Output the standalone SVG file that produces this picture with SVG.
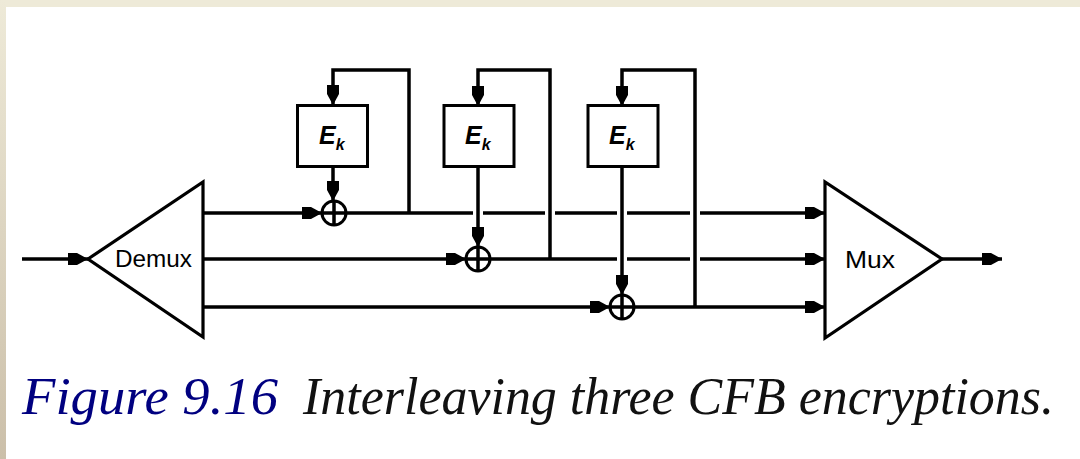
<svg xmlns="http://www.w3.org/2000/svg" width="1080" height="459" viewBox="0 0 1080 459">
<defs>
<linearGradient id="side" x1="0" y1="0" x2="0" y2="1">
<stop offset="0" stop-color="#EEEAD8"/>
<stop offset="1" stop-color="#CBBFA9"/>
</linearGradient>
<marker id="arr" markerUnits="userSpaceOnUse" markerWidth="24" markerHeight="16" viewBox="-22 -8 24 16" refX="0" refY="0" orient="auto">
<path d="M-20,-6 L-11,-6 L0,0 L-11,6 L-20,6 Z" fill="#000"/>
</marker>
</defs>
<style>
.ln{fill:none;stroke:#000;stroke-width:3.5;stroke-linecap:butt;stroke-linejoin:miter}
.ar{marker-end:url(#arr)}
.box{fill:#fff;stroke:#000;stroke-width:3}
.tri{fill:#fff;stroke:#000;stroke-width:3.2}
.xor{fill:#fff;stroke:#000;stroke-width:3}
.lbl{font-family:"Liberation Sans",Arial,sans-serif;font-size:24px;fill:#000}
.ek{font-family:"Liberation Sans",Arial,sans-serif;font-style:italic;font-weight:bold;fill:#000}
.cap{font-family:"Liberation Serif","Times New Roman",serif;font-style:italic;font-size:53px}
</style>
<rect x="0" y="0" width="1080" height="459" fill="#fff"/>
<rect x="0" y="0" width="1080" height="7" fill="#EEEAD8"/>
<rect x="0" y="0" width="6" height="459" fill="url(#side)"/>

<g id="connectors">
<path class="ln ar" d="M22,259 H88"/>
<path class="ln ar" d="M203,213 H322"/>
<path class="ln" d="M346,213 H473 M483,213 H545 M555,213 H617 M627,213 H690"/>
<path class="ln ar" d="M700,213 H825"/>
<path class="ln ar" d="M203,259 H466"/>
<path class="ln" d="M490,259 H617 M627,259 H690"/>
<path class="ln ar" d="M700,259 H825"/>
<path class="ln ar" d="M203,307 H610"/>
<path class="ln ar" d="M634,307 H825"/>
<path class="ln ar" d="M409,213 V70 H333 V105"/>
<path class="ln ar" d="M333,167 V201"/>
<path class="ln ar" d="M550,259 V70 H478 V106"/>
<path class="ln ar" d="M478,166 V247"/>
<path class="ln ar" d="M695,307 V70 H622 V106"/>
<path class="ln ar" d="M622,166 V295"/>
<path class="ln ar" d="M942,259 H1002"/>
</g>

<g id="demux">
<polygon class="tri" points="88,259 203,182 203,337"/>
<text class="lbl" x="115" y="267" textLength="77" lengthAdjust="spacingAndGlyphs">Demux</text>
</g>

<g id="mux">
<polygon class="tri" points="825,182 825,338 942,259"/>
<text class="lbl" x="845" y="268" textLength="50" lengthAdjust="spacingAndGlyphs">Mux</text>
</g>

<g id="ek1">
<rect class="box" x="297.5" y="105.5" width="70" height="61"/>
<text class="ek" x="319" y="144" font-size="25">E<tspan font-size="16" dy="6">k</tspan></text>
</g>
<g id="ek2">
<rect class="box" x="444" y="105.5" width="70" height="61"/>
<text class="ek" x="465" y="144" font-size="25">E<tspan font-size="16" dy="6">k</tspan></text>
</g>
<g id="ek3">
<rect class="box" x="588" y="105.5" width="70" height="61"/>
<text class="ek" x="609" y="144" font-size="25">E<tspan font-size="16" dy="6">k</tspan></text>
</g>

<g id="xor1">
<circle class="xor" cx="334" cy="213" r="12"/>
<path class="ln" d="M322,213 H346 M334,201 V225"/>
</g>
<g id="xor2">
<circle class="xor" cx="478" cy="259" r="12"/>
<path class="ln" d="M466,259 H490 M478,247 V271"/>
</g>
<g id="xor3">
<circle class="xor" cx="622" cy="307" r="12"/>
<path class="ln" d="M610,307 H634 M622,295 V319"/>
</g>

<g id="caption">
<text class="cap" x="22" y="414" fill="#000080" textLength="256" lengthAdjust="spacingAndGlyphs">Figure 9.16</text>
<text class="cap" x="303" y="414" fill="#111" textLength="751" lengthAdjust="spacingAndGlyphs">Interleaving three CFB encryptions.</text>
</g>
</svg>
